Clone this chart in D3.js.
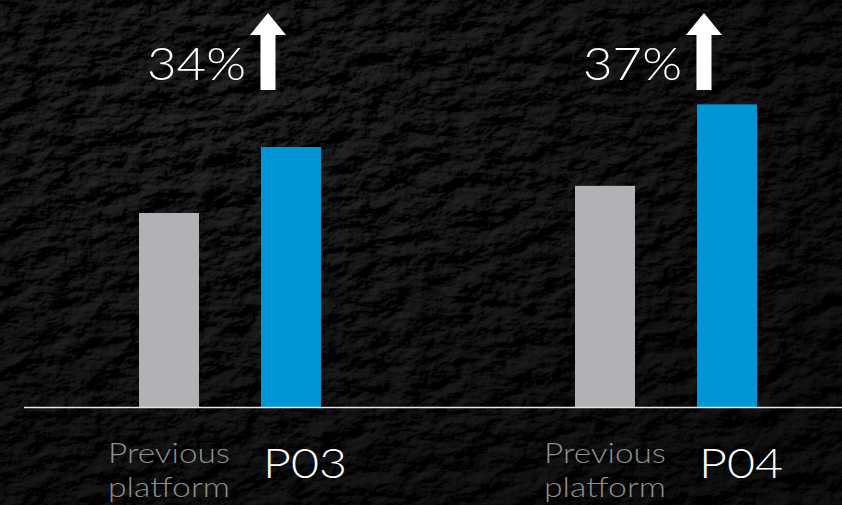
<!DOCTYPE html>
<meta charset="utf-8">
<script src="https://d3js.org/d3.v7.min.js"></script>
<style>
  body { margin: 0; background: #1e1e1e; }
  svg { display: block; }
</style>
<div id="chart"></div>
<script>
  // values (bar heights relative to baseline)
  var groups = ["P03", "P04"];
  var series = ["prev", "new"];
  var previousValues = [100, 114];
  var newValues = [134, 156];
  var increaseLabels = ["34%", "37%"];
  var prevLabelLines = ["Previous", "platform"];

  var width = 842, height = 505;

  var svg = d3.select("#chart")
    .append("svg")
    .attr("width", width)
    .attr("height", height);

  // stone-like background texture
  var defs = svg.append("defs");
  var f = defs.append("filter").attr("id", "stone")
    .attr("x", 0).attr("y", 0).attr("width", "100%").attr("height", "100%");
  f.append("feTurbulence")
    .attr("type", "fractalNoise")
    .attr("baseFrequency", "0.03 0.05")
    .attr("numOctaves", 5)
    .attr("seed", 7)
    .attr("result", "noise");
  f.append("feDiffuseLighting")
    .attr("in", "noise")
    .attr("surfaceScale", 2.6)
    .attr("diffuseConstant", 0.9)
    .attr("lighting-color", "#555")
    .attr("result", "lit")
    .append("feDistantLight")
    .attr("azimuth", 225)
    .attr("elevation", 45);
  f.append("feColorMatrix")
    .attr("in", "lit")
    .attr("type", "matrix")
    .attr("values", "1 0 0 0 -0.05  1 0 0 0 -0.05  1 0 0 0 -0.05  0 0 0 0 1");

  var shade = defs.append("radialGradient").attr("id", "shade")
    .attr("cx", "25%").attr("cy", "20%").attr("r", "95%");
  shade.append("stop").attr("offset", "0%").attr("stop-color", "#000").attr("stop-opacity", 0);
  shade.append("stop").attr("offset", "100%").attr("stop-color", "#000").attr("stop-opacity", 0.5);

  svg.append("rect").attr("width", width).attr("height", height).attr("fill", "#262626");
  svg.append("rect").attr("width", width).attr("height", height).attr("filter", "url(#stone)");
  svg.append("rect").attr("width", width).attr("height", height).attr("fill", "url(#shade)");

  // scales
  var x0 = d3.scaleBand().domain(groups).range([12, 884]);
  var x1 = d3.scaleBand().domain(series).range([127, 309]).paddingInner(0.508).paddingOuter(0);
  var y = d3.scaleLinear().domain([0, 200]).range([407, 19]);

  var color = { prev: "#b1b2b5", "new": "#0096d6" };

  var data = groups.map(function (g, i) {
    return { group: g, prev: previousValues[i], "new": newValues[i], label: increaseLabels[i] };
  });

  var g = svg.selectAll(".grp")
    .data(data)
    .enter()
    .append("g")
    .attr("class", "grp")
    .attr("transform", function (d) { return "translate(" + x0(d.group) + ",0)"; });

  g.selectAll("rect")
    .data(function (d) { return series.map(function (s) { return { key: s, value: d[s] }; }); })
    .enter()
    .append("rect")
    .attr("x", function (d) { return x1(d.key); })
    .attr("y", function (d) { return y(d.value); })
    .attr("width", x1.bandwidth())
    .attr("height", function (d) { return y(0) - y(d.value); })
    .attr("fill", function (d) { return color[d.key]; });

  // baseline
  svg.append("line")
    .attr("x1", 24).attr("x2", width)
    .attr("y1", y(0) + 0.5).attr("y2", y(0) + 0.5)
    .attr("stroke", "#e6e6e6")
    .attr("stroke-width", 1.5);

  // increase arrows
  var arrowPath = "M0,13 L18,35 L7.5,35 L7.5,90 L-7.5,90 L-7.5,35 L-18,35 Z";
  g.append("path")
    .attr("d", arrowPath)
    .attr("transform", function () { return "translate(" + (x1("new") + 7) + ",0)"; })
    .attr("fill", "#fff");

  // wide geometric look: stretch the light font with textLength
  g.append("text")
    .attr("x", x1("new") + 7 - 121)
    .attr("y", 80)
    .attr("textLength", 99)
    .attr("lengthAdjust", "spacingAndGlyphs")
    .attr("font-family", "Lato, 'Open Sans', sans-serif")
    .attr("font-weight", 300)
    .attr("font-size", 46)
    .attr("fill", "#fff")
    .text(function (d) { return d.label; });

  // labels under bars
  g.append("text")
    .attr("x", x1("new") + 2)
    .attr("y", 478)
    .attr("textLength", 84)
    .attr("lengthAdjust", "spacingAndGlyphs")
    .attr("font-family", "Lato, 'Open Sans', sans-serif")
    .attr("font-weight", 300)
    .attr("font-size", 41)
    .attr("fill", "#fff")
    .text(function (d) { return d.group; });

  var pl = g.append("text")
    .attr("font-family", "Lato, 'Open Sans', sans-serif")
    .attr("font-weight", 300)
    .attr("font-size", 28)
    .attr("fill", "#8e8e8e");
  pl.selectAll("tspan")
    .data(prevLabelLines)
    .enter()
    .append("tspan")
    .attr("x", x1("prev") - 31)
    .attr("y", function (d, i) { return 463 + i * 34; })
    .attr("textLength", 122)
    .attr("lengthAdjust", "spacingAndGlyphs")
    .text(function (d) { return d; });
</script>
